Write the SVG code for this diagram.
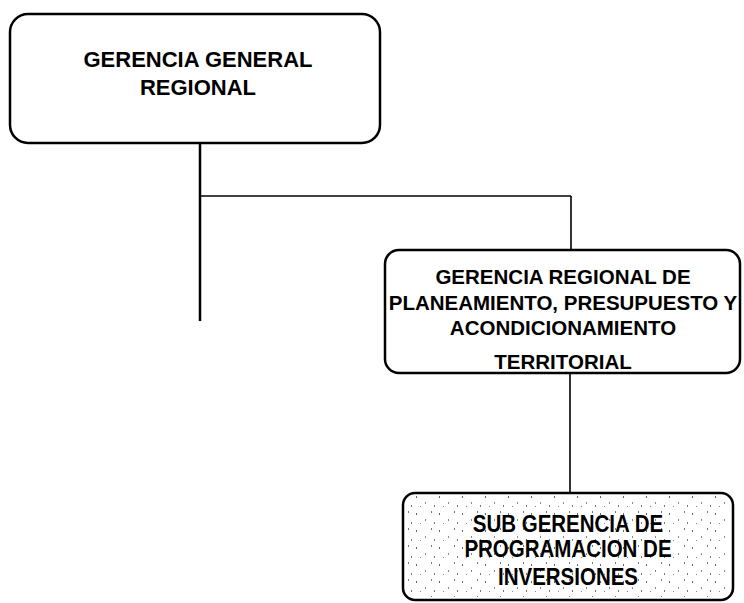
<svg xmlns="http://www.w3.org/2000/svg" width="744" height="603" viewBox="0 0 744 603">
<style>
.box{fill:#fff;stroke:#000;stroke-width:2.5}
.lbl{font-family:"Liberation Sans",Arial,sans-serif;font-weight:bold;fill:#000;text-anchor:middle}
.con{stroke:#000;fill:none}
</style>
<defs>
<pattern id="stip" width="23" height="17" patternUnits="userSpaceOnUse">
<rect x="2" y="3" width="1" height="2" fill="#666"/>
<rect x="11" y="9" width="1" height="2" fill="#888"/>
<rect x="17" y="1" width="1" height="2" fill="#777"/>
<rect x="6" y="13" width="1" height="1" fill="#888"/>
<rect x="20" y="12" width="1" height="2" fill="#777"/>
</pattern>
<clipPath id="clip2"><rect x="385" y="250" width="355" height="120"/></clipPath>
</defs>
<rect width="744" height="603" fill="#fff"/>
<g id="connectors">
<line class="con" x1="200" y1="143" x2="200" y2="321" stroke-width="2.5"/>
<line class="con" x1="200" y1="196" x2="571" y2="196" stroke-width="1.6"/>
<line class="con" x1="571" y1="196" x2="571" y2="250" stroke-width="1.6"/>
<line class="con" x1="570" y1="373" x2="570" y2="493" stroke-width="1.6"/>
</g>
<g id="node-gerencia-general">
<rect class="box" x="10" y="14" width="370" height="129" rx="18"/>
<text class="lbl" font-size="22" x="198" y="67">GERENCIA GENERAL</text>
<text class="lbl" font-size="22" x="198" y="95">REGIONAL</text>
</g>
<g id="node-gerencia-planeamiento">
<rect class="box" x="385" y="250" width="355" height="123" rx="14"/>
<g clip-path="url(#clip2)">
<text class="lbl" font-size="20.5" x="563" y="284">GERENCIA REGIONAL DE</text>
<text class="lbl" font-size="20.5" x="563" y="310">PLANEAMIENTO, PRESUPUESTO Y</text>
<text class="lbl" font-size="20.5" x="563" y="335">ACONDICIONAMIENTO</text>
<text class="lbl" font-size="20.5" x="563" y="369">TERRITORIAL</text>
</g>
</g>
<g id="node-sub-gerencia">
<rect class="box" x="403" y="493" width="330" height="107" rx="12"/>
<rect x="406" y="496" width="324" height="101" rx="10" fill="url(#stip)"/>
<g transform="scale(1,1.15)">
<text class="lbl" font-size="20.5" x="568" y="462.6">SUB GERENCIA DE</text>
<text class="lbl" font-size="20.5" x="568" y="484.3">PROGRAMACION DE</text>
<text class="lbl" font-size="20.5" x="568" y="508.7">INVERSIONES</text>
</g>
</g>
</svg>
